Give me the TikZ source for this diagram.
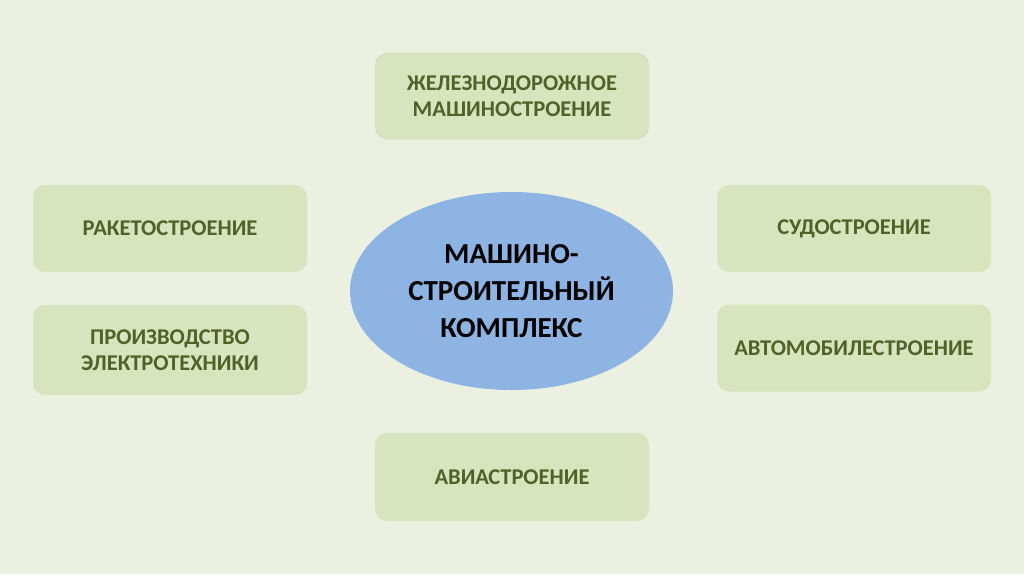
\documentclass[tikz,border=0pt]{standalone}
\usepackage{fontspec}
\setmainfont{Carlito}
\usetikzlibrary{shapes.geometric}
\definecolor{bg}{HTML}{EBF0E0}
\definecolor{boxfill}{HTML}{D7E4BD}
\definecolor{boxtext}{HTML}{4F6228}
\definecolor{ellfill}{HTML}{8EB4E3}
\begin{document}
\begin{tikzpicture}[x=1pt,y=-1pt,
  branch/.style={rectangle, rounded corners=12pt, fill=boxfill, minimum width=274pt, minimum height=87pt,
    align=center, text=boxtext, font=\fontsize{22.5}{26.5}\selectfont\bfseries},
  hub/.style={ellipse, fill=ellfill, minimum width=323pt, minimum height=198pt, inner sep=0pt,
    align=center, text=black, font=\fontsize{29}{37}\selectfont\bfseries}]
\fill[bg] (0,0) rectangle (1024,574);
\useasboundingbox (0,0) rectangle (1024,574);
\node[branch] (rail) at (512,96) {ЖЕЛЕЗНОДОРОЖНОЕ\\МАШИНОСТРОЕНИЕ};
\node[branch] (rocket) at (170,228.5) {РАКЕТОСТРОЕНИЕ};
\node[branch, minimum height=90pt] (elec) at (170,350) {ПРОИЗВОДСТВО\\ЭЛЕКТРОТЕХНИКИ};
\node[branch] (ship) at (854,228.5) {СУДОСТРОЕНИЕ};
\node[branch] (auto) at (854,348) {АВТОМОБИЛЕСТРОЕНИЕ};
\node[branch, minimum height=88pt] (avia) at (512,477) {АВИАСТРОЕНИЕ};
\node[hub] (hub) at (511.5,291) {МАШИНО-\\СТРОИТЕЛЬНЫЙ\\КОМПЛЕКС};
\end{tikzpicture}
\end{document}
